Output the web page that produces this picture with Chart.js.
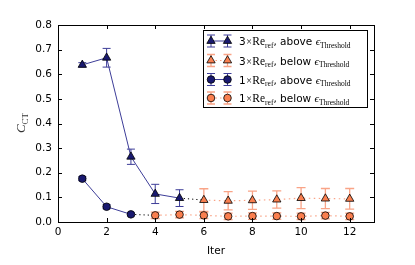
<!DOCTYPE html>
<html><head><meta charset="utf-8">
<script src="https://cdn.jsdelivr.net/npm/chart.js@4.4.0/dist/chart.umd.min.js"></script>
<style>html,body{margin:0;padding:0;background:#fff;}</style>
</head><body><canvas id="c" width="415" height="265"></canvas>
<script>
// ---- data ----
const xTicks = [0, 2, 4, 6, 8, 10, 12];
const yTicks = [0.0, 0.1, 0.2, 0.3, 0.4, 0.5, 0.6, 0.7, 0.8];

const iterTriAbove = [1, 2, 3, 4, 5];
const ctTriAbove   = [0.638, 0.667, 0.265, 0.114, 0.097];
const errTriAbove  = [0.009, 0.038, 0.031, 0.039, 0.034];

const iterTriBelow = [6, 7, 8, 9, 10, 11, 12];
const ctTriBelow   = [0.089, 0.086, 0.088, 0.091, 0.097, 0.095, 0.094];
const errTriBelow  = [0.046, 0.037, 0.037, 0.035, 0.043, 0.041, 0.042];

const iterCircAbove = [1, 2, 3];
const ctCircAbove   = [0.176, 0.062, 0.031];
const errCircAbove  = [0.008, 0.008, 0.006];

const iterCircBelow = [4, 5, 6, 7, 8, 9, 10, 11, 12];
const ctCircBelow   = [0.027, 0.030, 0.027, 0.023, 0.024, 0.024, 0.023, 0.026, 0.023];
const errCircBelow  = [0.013, 0.013, 0.013, 0.013, 0.013, 0.013, 0.013, 0.013, 0.013];

// ---- styles ----
const NAVY = '#191970', NAVYLINE = '#3d3d98', ORANGE = '#fa7f4f', SALMON = '#f9a487';
const SANS = '"DejaVu Sans"', SERIF = '"Liberation Serif"';

function pts(xs, ys) { return xs.map((x, i) => ({ x: x, y: ys[i] })); }

const errSeries = [
  { xs: iterTriAbove, ys: ctTriAbove, es: errTriAbove, color: NAVYLINE, lw: 1, cap: 4 },
  { xs: iterCircAbove, ys: ctCircAbove, es: errCircAbove, color: NAVYLINE, lw: 1, cap: 4 },
  { xs: iterTriBelow, ys: ctTriBelow, es: errTriBelow, color: SALMON, lw: 1.3, cap: 4.5 },
  { xs: iterCircBelow, ys: ctCircBelow, es: errCircBelow, color: SALMON, lw: 1.3, cap: 4.5 }
];

function drawMarker(ctx, type, x, y, fill) {
  ctx.save();
  ctx.fillStyle = fill; ctx.strokeStyle = '#000'; ctx.lineWidth = 0.8;
  ctx.beginPath();
  if (type === 'tri') {
    const r = 4.8;
    ctx.moveTo(x, y - r);
    ctx.lineTo(x + r * Math.sin(2 * Math.PI / 3), y + r * 0.5);
    ctx.lineTo(x - r * Math.sin(2 * Math.PI / 3), y + r * 0.5);
    ctx.closePath();
  } else {
    ctx.arc(x, y, 3.8, 0, Math.PI * 2);
  }
  ctx.fill(); ctx.stroke();
  ctx.restore();
}

function drawParts(ctx, parts, x, y) {
  let cx = x;
  parts.forEach(p => {
    ctx.font = p.font;
    ctx.fillText(p.t, cx, y + (p.dy || 0));
    cx += ctx.measureText(p.t).width + (p.gap || 0);
  });
  return cx;
}

const decor = {
  id: 'decor',
  beforeDatasetsDraw(chart) {
    const ctx = chart.ctx, xs = chart.scales.x, ys = chart.scales.y;
    ctx.save();
    errSeries.forEach(s => {
      ctx.strokeStyle = s.color; ctx.lineWidth = s.lw;
      s.xs.forEach((xv, i) => {
        const px = xs.getPixelForValue(xv);
        const top = ys.getPixelForValue(s.ys[i] + s.es[i]);
        const bot = ys.getPixelForValue(s.ys[i] - s.es[i]);
        ctx.beginPath();
        ctx.moveTo(px, top); ctx.lineTo(px, bot);
        ctx.moveTo(px - s.cap, top); ctx.lineTo(px + s.cap, top);
        ctx.moveTo(px - s.cap, bot); ctx.lineTo(px + s.cap, bot);
        ctx.stroke();
      });
    });
    ctx.restore();
  },
  afterDraw(chart) {
    const ctx = chart.ctx, a = chart.chartArea, xs = chart.scales.x, ys = chart.scales.y;
    ctx.save();
    // frame
    ctx.strokeStyle = '#000'; ctx.lineWidth = 1;
    ctx.strokeRect(Math.round(a.left) + 0.5, Math.round(a.top) + 0.5, Math.round(a.right - a.left), Math.round(a.bottom - a.top));
    // inward ticks
    ctx.beginPath();
    xTicks.forEach(v => {
      const px = Math.round(xs.getPixelForValue(v)) + 0.5;
      ctx.moveTo(px, a.bottom); ctx.lineTo(px, a.bottom - 4);
      ctx.moveTo(px, a.top); ctx.lineTo(px, a.top + 4);
    });
    yTicks.forEach(v => {
      const py = Math.round(ys.getPixelForValue(v)) + 0.5;
      ctx.moveTo(a.left, py); ctx.lineTo(a.left + 4, py);
      ctx.moveTo(a.right, py); ctx.lineTo(a.right - 4, py);
    });
    ctx.stroke();

    // axis titles
    ctx.fillStyle = '#000';
    ctx.textBaseline = 'middle'; ctx.textAlign = 'center';
    ctx.font = '10.5px ' + SANS;
    ctx.fillText('Iter', (a.left + a.right) / 2, 251);

    ctx.save();
    ctx.translate(21, 123);
    ctx.rotate(-Math.PI / 2);
    ctx.fillStyle = '#333';
    ctx.textAlign = 'left'; ctx.textBaseline = 'alphabetic';
    ctx.font = 'italic 13px ' + SERIF; const w1 = ctx.measureText('C').width;
    ctx.font = '9px ' + SERIF; const w2 = ctx.measureText('CT').width;
    drawParts(ctx, [{ t: 'C', font: 'italic 13px ' + SERIF }, { t: 'CT', font: '9px ' + SERIF, dy: 2.5 }], -(w1 + w2) / 2, 4);
    ctx.restore();

    // legend
    const L = { x: 203.5, y: 30.5, w: 164, h: 77 };
    ctx.fillStyle = '#fff'; ctx.fillRect(L.x, L.y, L.w, L.h);
    ctx.strokeStyle = '#000'; ctx.lineWidth = 1; ctx.strokeRect(L.x, L.y, L.w, L.h);
    const rows = [
      { num: '3', type: 'tri', fill: NAVY, ec: NAVYLINE, word: 'above', dotted: false },
      { num: '3', type: 'tri', fill: ORANGE, ec: SALMON, word: 'below', dotted: true },
      { num: '1', type: 'circ', fill: NAVY, ec: NAVYLINE, word: 'above', dotted: false },
      { num: '1', type: 'circ', fill: ORANGE, ec: SALMON, word: 'below', dotted: true }
    ];
    const rowY = [41, 60.5, 79.5, 98];
    rows.forEach((r, i) => {
      const y = rowY[i];
      const x1 = 211, x2 = 227.5;
      ctx.save();
      ctx.strokeStyle = r.ec; ctx.lineWidth = 1;
      if (r.dotted) ctx.setLineDash([1.5, 3]);
      ctx.beginPath(); ctx.moveTo(x1, y); ctx.lineTo(x2, y); ctx.stroke();
      ctx.restore();
      [x1, x2].forEach(px => {
        ctx.save();
        ctx.strokeStyle = r.ec; ctx.lineWidth = r.dotted ? 1.3 : 1;
        ctx.beginPath();
        ctx.moveTo(px, y - 6); ctx.lineTo(px, y + 6);
        ctx.moveTo(px - 4, y - 6); ctx.lineTo(px + 4, y - 6);
        ctx.moveTo(px - 4, y + 6); ctx.lineTo(px + 4, y + 6);
        ctx.stroke();
        ctx.restore();
        drawMarker(ctx, r.type, px, y, r.fill);
      });
      ctx.fillStyle = '#000'; ctx.textAlign = 'left'; ctx.textBaseline = 'alphabetic';
      const base = y + 4;
      drawParts(ctx, [
        { t: r.num, font: '10.5px ' + SANS, gap: 0.5 },
        { t: '\u00d7', font: '10px ' + SERIF, gap: 0.5 },
        { t: 'Re', font: '11.5px ' + SERIF },
        { t: 'ref', font: '7.5px ' + SERIF, dy: 2.5 },
        { t: ', ' + r.word + ' ', font: '10.5px ' + SANS },
        { t: '\u03f5', font: 'italic 11px ' + SERIF },
        { t: 'Threshold', font: '7.5px ' + SERIF, dy: 2.5 }
      ], 239, base);
    });
    ctx.restore();
  }
};

new Chart(document.getElementById('c').getContext('2d'), {
  type: 'scatter',
  data: {
    datasets: [
      { data: pts(iterTriAbove, ctTriAbove), showLine: true, borderColor: NAVYLINE, borderWidth: 1,
        pointStyle: 'triangle', pointRadius: 4.8, pointBackgroundColor: NAVY, pointBorderColor: '#000', pointBorderWidth: 0.8 },
      { data: pts(iterCircAbove, ctCircAbove), showLine: true, borderColor: NAVYLINE, borderWidth: 1,
        pointStyle: 'circle', pointRadius: 3.8, pointBackgroundColor: NAVY, pointBorderColor: '#000', pointBorderWidth: 0.8 },
      { data: pts(iterTriBelow, ctTriBelow), showLine: true, borderColor: SALMON, borderWidth: 1.2, borderDash: [1.5, 3.5],
        pointStyle: 'triangle', pointRadius: 4.8, pointBackgroundColor: ORANGE, pointBorderColor: '#000', pointBorderWidth: 0.8 },
      { data: pts(iterCircBelow, ctCircBelow), showLine: true, borderColor: SALMON, borderWidth: 1.2, borderDash: [1.5, 3.5],
        pointStyle: 'circle', pointRadius: 3.8, pointBackgroundColor: ORANGE, pointBorderColor: '#000', pointBorderWidth: 0.8 },
      { data: [{ x: iterTriAbove[4], y: ctTriAbove[4] }, { x: iterTriBelow[0], y: ctTriBelow[0] }], showLine: true,
        borderColor: '#000', borderWidth: 1, borderDash: [1.2, 3], pointRadius: 0 },
      { data: [{ x: iterCircAbove[2], y: ctCircAbove[2] }, { x: iterCircBelow[0], y: ctCircBelow[0] }], showLine: true,
        borderColor: '#000', borderWidth: 1, borderDash: [1.2, 3], pointRadius: 0 }
    ]
  },
  options: {
    responsive: false, animation: false, events: [],
    plugins: { legend: { display: false }, tooltip: { enabled: false } },
    layout: { padding: { left: 0, top: 25, right: 41, bottom: 0 } },
    scales: {
      x: {
        type: 'linear', min: 0, max: 13,
        afterBuildTicks: s => { s.ticks = xTicks.map(v => ({ value: v })); },
        afterFit: s => { s.height = 43; },
        grid: { display: false, drawTicks: false }, border: { display: false },
        ticks: { padding: 4, color: '#000', maxRotation: 0, autoSkip: false,
                 font: { family: 'DejaVu Sans', size: 10.5 }, callback: v => String(v) }
      },
      y: {
        type: 'linear', min: 0, max: 0.8,
        afterBuildTicks: s => { s.ticks = yTicks.map(v => ({ value: v })); },
        afterFit: s => { s.width = 58; },
        grid: { display: false, drawTicks: false }, border: { display: false },
        ticks: { padding: 6, color: '#000', autoSkip: false,
                 font: { family: 'DejaVu Sans', size: 10.5 }, callback: v => Number(v).toFixed(1) }
      }
    }
  },
  plugins: [decor]
});
</script>
</body></html>
